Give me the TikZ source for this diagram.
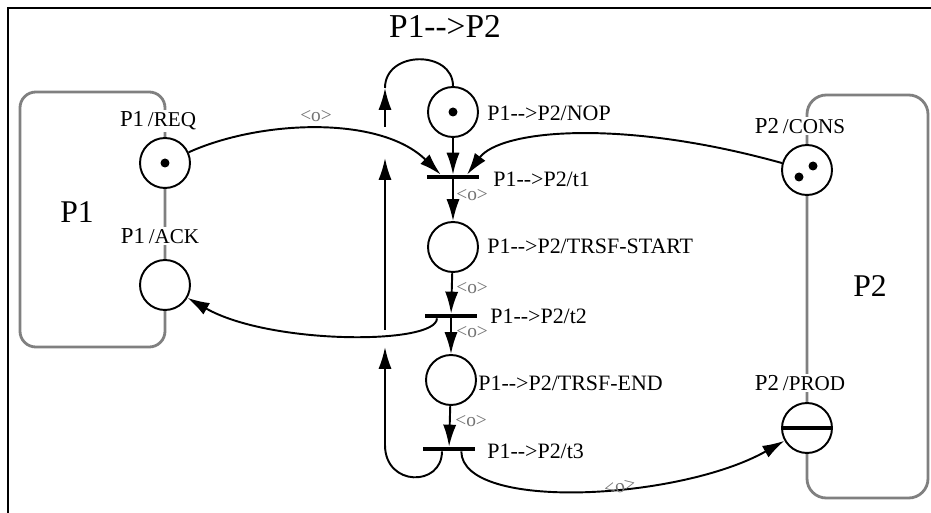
\documentclass[tikz,border=0pt]{standalone}
\usepackage{fontspec}
\setmainfont{Liberation Serif}
\usepackage{tikz}
\usetikzlibrary{arrows.meta}
\newcommand{\pp}{P1-\kern0pt-\kern0pt>P2}

\begin{document}
\begin{tikzpicture}[x=0.02cm,y=-0.02cm,
  place/.style={circle,draw,line width=1.1pt,fill=white,minimum size=1cm,inner sep=0pt},
  trans/.style={fill=black,minimum width=1.04cm,minimum height=2.3pt,inner sep=0pt},
  token/.style={circle,fill=black,minimum size=0.18cm,inner sep=0pt},
  arc/.style={line width=1.1pt,-{Latex[length=12.5pt,width=7.5pt]}},
  grp/.style={draw=black!50,line width=1.6pt},
  lbl/.style={font=\fontsize{12.5}{14}\selectfont,anchor=west,inner sep=0pt},
  plbl/.style={font=\fontsize{13}{15}\selectfont,fill=white,inner sep=1pt},
  wt/.style={font=\fontsize{11}{12}\selectfont,text=black!55,inner sep=0pt},
  big/.style={font=\fontsize{18}{21}\selectfont}]
\useasboundingbox (0,0) rectangle (931,513);
% frame and title
\draw[line width=1.7pt] (8,513) -- (8,8) -- (931,8);
\node[font=\fontsize{19}{22}\selectfont] (title) at (445,26) {\pp};

% P1
\draw[grp,rounded corners=9pt] (20,92) rectangle (165,347);
\node[big] (p1) at (77,212) {P1};
\node[place] (req) at (165,163) {};
\node[token] at (req) {};
\node[plbl] (reqlbl) at (158,121) {P1\,{\fontsize{12}{14}\selectfont/REQ}};
\node[place] (ack) at (165,285) {};
\node[plbl] (acklbl) at (160,236) {P1\,{\fontsize{12}{14}\selectfont/ACK}};

% P2
\draw[grp,rounded corners=11pt] (807,95) rectangle (928,498);
\node[big] (p2) at (870,286) {P2};
\node[place] (cons) at (807,170) {};
\node[token] at (799,177) {};
\node[token] at (813,166) {};
\node[plbl] (conslbl) at (800,126) {P2\,{\fontsize{12}{14}\selectfont/CONS}};
\node[place] (prod) at (807,428) {};
\draw[line width=2.3pt] (prod.west) -- (prod.east);
\node[plbl] (prodlbl) at (800,383) {P2\,{\fontsize{12}{14}\selectfont/PROD}};

% P1-->P2
\node[place] (nop) at (453,112) {};
\node[token] at (nop) {};
\node[trans] (t1) at (453,177) {};
\node[place] (start) at (453,247) {};
\node[trans] (t2) at (451,316) {};
\node[place] (end) at (451,380) {};
\node[trans] (t3) at (449,449) {};

\node[lbl] (noplbl) at (487,113) {\pp/NOP};
\node[lbl] (t1lbl) at (493,179) {\pp/t1};
\node[lbl] (startlbl) at (487,246) {\pp/TRSF-START};
\node[lbl] (t2lbl) at (490,316) {\pp/t2};
\node[lbl] (endlbl) at (478,383) {\pp/TRSF-END};
\node[lbl] (t3lbl) at (487,451) {\pp/t3};

\draw[arc] (nop) -- (t1);
\draw[arc] (t1) -- (start);
\draw[arc] (start) -- (t2);
\draw[arc] (t2) -- (end);
\draw[arc] (end) -- (t3);
\node[wt,anchor=west] (w1) at (456,195) {<o>};
\node[wt,anchor=west] (w2) at (456,288) {<o>};
\node[wt,anchor=west] (w3) at (456,332) {<o>};
\node[wt,anchor=west] (w4) at (455,421) {<o>};

% arcs to and from the sides
\coordinate (t1a) at ([xshift=-7pt]t1.north);
\coordinate (t1c) at ([xshift=8pt]t1.north);
\draw[arc] (req) .. controls (260,120) and (380,115) .. (t1a);
\node[wt] (wreq) at (316,116) {<o>};
\draw[arc] (cons) .. controls (620,118) and (500,130) .. (t1c);

\coordinate (t2a) at ([xshift=-8pt]t2.south);
\draw[arc] (t2a) .. controls (437,345) and (270,345) .. (ack);

\coordinate (t3a) at ([xshift=-4pt]t3.south);
\coordinate (up1) at (385,347);
\coordinate (up1b) at (385,330);
\coordinate (up2) at (385,158);
\coordinate (up2b) at (385,127);
\coordinate (up3) at (385,88);
\draw[arc] (t3a) .. controls (442,487) and (385,487) .. (385,445) -- (up1);
\draw[arc] (up1b) -- (up2);
\draw[arc] (up2b) -- (up3);
\draw[line width=1.1pt] (up3) .. controls (385,50) and (453,50) .. (nop);

\coordinate (t3b) at ([xshift=7pt]t3.south);
\draw[arc] (t3b) .. controls (462,512) and (680,500) .. (prod);
\node[wt,rotate=12] (wprod) at (620,487) {<o>};
\end{tikzpicture}
\end{document}
